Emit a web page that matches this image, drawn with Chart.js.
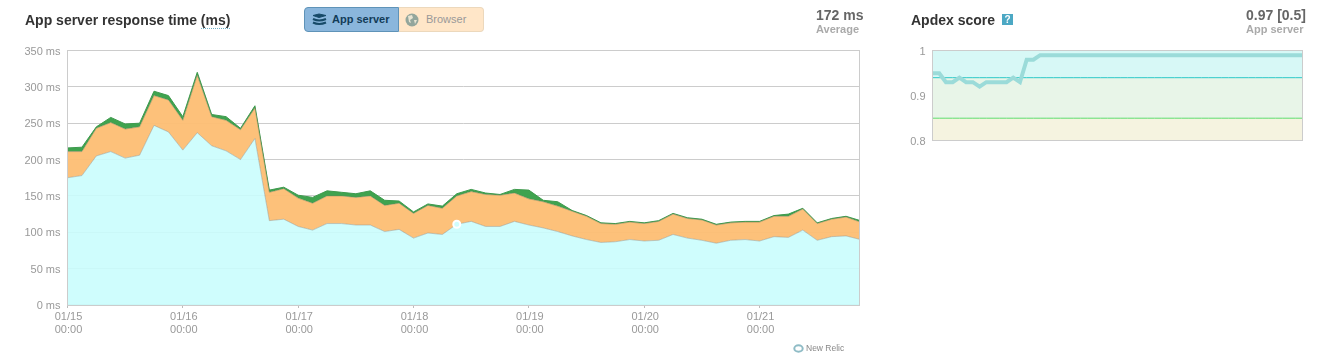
<!DOCTYPE html>
<html>
<head>
<meta charset="utf-8">
<title>App server response time</title>
<script src="https://cdn.jsdelivr.net/npm/chart.js@4"></script>
<style>
  html, body { margin: 0; padding: 0; background: #fff; }
  body { position: relative; width: 1324px; height: 363px; overflow: hidden; font-family: "Liberation Sans", Arial, sans-serif; }
  canvas { position: absolute; top: 0; }
  #chartTime { left: 0; }
  #chartApdex { left: 880px; }
  .txt { position: absolute; white-space: nowrap; line-height: 16px; }
  .title { font-size: 14px; font-weight: bold; color: #333; }
  .big { font-size: 14px; font-weight: bold; color: #666; }
  .sub { font-size: 11px; font-weight: bold; color: #aaa; }
  .ms { border-bottom: 1px dotted #6fb1c9; }
  .toggle { position: absolute; left: 304px; top: 7px; width: 180px; height: 25px; display: flex; font-size: 11px; box-sizing: border-box; }
  .toggle div { box-sizing: border-box; height: 25px; line-height: 22px; position: relative; }
  .on { width: 95px; background: #8ab6dc; border: 1px solid #5f93b8; border-radius: 4px 0 0 4px; color: #123c58; font-weight: bold; padding-left: 27px; }
  .off { width: 85px; background: #ffe6c8; border: 1px solid #ecd8bc; border-left: none; border-radius: 0 4px 4px 0; color: #999; padding-left: 27px; }
  .toggle svg { position: absolute; top: 5px; }
  .help { position: absolute; left: 1002px; top: 14px; width: 11px; height: 11px; background: #4ca8c4; color: #fff; font-size: 10px; font-weight: bold; line-height: 11px; text-align: center; }
  .logo { position: absolute; left: 793px; top: 344px; }
</style>
</head>
<body>
<canvas id="chartTime" width="870" height="363"></canvas>
<canvas id="chartApdex" width="430" height="160"></canvas>

<div class="txt title" style="left:25px;top:12px">App server response time <span class="ms">(ms)</span></div>
<div class="toggle">
  <div class="on">
    <svg style="left:7px" width="15" height="13" viewBox="0 0 15 13" fill="none" stroke="#174a68" stroke-width="2">
      <path d="M1 2.5 L7 1 L14 2.5 L7 4.5 Z" fill="#174a68" stroke-width="1"/>
      <path d="M1 6 Q7 9 14 6"/><path d="M1 9.5 Q7 12.5 14 9.5"/>
    </svg>
    App server
  </div>
  <div class="off">
    <svg style="left:6px" width="14" height="14" viewBox="0 0 14 14">
      <circle cx="7" cy="7" r="6.5" fill="#93a69c"/>
      <path d="M3 3 L7 2 L8 5 L5 7 L6 10 L4 9 Z M9 7 L12 7 L10 11 Z" fill="#e8e4d2"/>
    </svg>
    Browser
  </div>
</div>
<div class="txt big" style="left:816px;top:7px">172 ms</div>
<div class="txt sub" style="left:816px;top:21px">Average</div>

<div class="txt title" style="left:911px;top:12px">Apdex score</div>
<div class="help">?</div>
<div class="txt big" style="left:1246px;top:7px">0.97 [0.5]</div>
<div class="txt sub" style="left:1246px;top:21px">App server</div>

<svg class="logo" width="11" height="9" viewBox="0 0 11 9"><ellipse cx="5.5" cy="4.5" rx="4.2" ry="3.2" fill="none" stroke="#8fbcc6" stroke-width="2"/></svg>
<div class="txt" style="left:806px;top:340px;font-size:8.5px;color:#888">New Relic</div>

<script>
// hours since 01/15 00:00, one sample every 3 hours
const hours = [
  0, 3, 6, 9, 12, 15, 18, 21, 24, 27, 30, 33, 36, 39,
  42, 45, 48, 51, 54, 57, 60, 63, 66, 69, 72, 75, 78, 81,
  84, 87, 90, 93, 96, 99, 102, 105, 108, 111, 114, 117, 120, 123,
  126, 129, 132, 135, 138, 141, 144, 147, 150, 153, 156, 159, 162, 165
];

// stacked layers, in ms
const appLayer = [
  175, 178, 205, 211, 202, 206, 247, 238, 213, 237, 219, 212, 200, 229,
  116, 118, 108, 103, 112, 112, 110, 110, 101, 104, 92, 99, 97, 111,
  115, 108, 108, 115, 110, 106, 101, 95, 90, 86, 87, 90, 88, 89,
  97, 92, 89, 85, 89, 90, 88, 94, 93, 103, 89, 94, 95, 90
];
const dbLayer = [
  36, 33, 38, 40, 40, 39, 41, 44, 41, 79, 40, 42, 41, 42,
  39, 42, 39, 37, 38, 38, 38, 40, 36, 36, 34, 38, 36, 39,
  41, 44, 43, 39, 36, 36, 35, 34, 32, 26, 24, 24, 24, 26,
  28, 27, 28, 25, 24, 24, 26, 28, 29, 29, 23, 24, 26, 24
];
const extLayer = [
  5, 6, 2, 7, 7, 5, 6, 6, 5, 4, 3, 5, 2, 3,
  3, 2, 4, 8, 7, 5, 5, 7, 7, 3, 2, 2, 3, 3,
  3, 2, 1, 5, 12, 2, 6, 1, 1, 1, 1, 1, 1, 1,
  1, 1, 1, 1, 1, 1, 1, 1, 3, 1, 1, 1, 1, 2
];
const apdexValues = [
  0.95, 0.95, 0.93, 0.93, 0.94, 0.93, 0.93, 0.92, 0.93, 0.93, 0.93, 0.93, 0.94, 0.93,
  0.98, 0.98, 0.99, 0.99, 0.99, 0.99, 0.99, 0.99, 0.99, 0.99, 0.99, 0.99, 0.99, 0.99,
  0.99, 0.99, 0.99, 0.99, 0.99, 0.99, 0.99, 0.99, 0.99, 0.99, 0.99, 0.99, 0.99, 0.99,
  0.99, 0.99, 0.99, 0.99, 0.99, 0.99, 0.99, 0.99, 0.99, 0.99, 0.99, 0.99, 0.99, 0.99
];
const apdexBands = [1, 0.94, 0.85];

const dayLabels = ['01/15', '01/16', '01/17', '01/18', '01/19', '01/20', '01/21'];
const hoverIndex = 27;

const tickFont = { family: '"Liberation Sans", Arial, sans-serif', size: 11, lineHeight: 1.15 };
const tickColor = '#999';
const frameColor = '#ccc';

// the frame round the plot area, snapped to whole pixels
const plotFrame = {
  id: 'plotFrame',
  afterDraw(chart) {
    const a = chart.chartArea;
    const c = chart.ctx;
    const left = Math.floor(a.left) + 0.5;
    const top = Math.floor(a.top) + 0.5;
    c.save();
    c.strokeStyle = frameColor;
    c.lineWidth = 1;
    c.strokeRect(left, top, Math.round(a.right - a.left), Math.round(a.bottom - a.top));
    c.restore();
  }
};

function points(values) {
  return values.map((v, i) => ({ x: hours[i], y: v }));
}

new Chart(document.getElementById('chartTime').getContext('2d'), {
  type: 'line',
  data: {
    datasets: [
      {
        label: 'App server',
        data: points(appLayer),
        borderColor: 'rgba(150,150,140,0.5)',
        borderWidth: 1,
        backgroundColor: 'rgba(202,253,253,0.9)',
        fill: 'origin',
        tension: 0,
        pointRadius: ctx => ctx.dataIndex === hoverIndex ? 3.5 : 0,
        pointBackgroundColor: '#cffdfd',
        pointBorderColor: '#fff',
        pointBorderWidth: 2
      },
      {
        label: 'Database',
        data: points(dbLayer),
        borderColor: 'rgba(120,130,90,0.5)',
        borderWidth: 1,
        backgroundColor: 'rgba(253,190,115,0.95)',
        fill: '-1',
        tension: 0,
        pointRadius: 0
      },
      {
        label: 'External',
        data: points(extLayer),
        borderColor: '#3f9a4e',
        borderWidth: 1,
        backgroundColor: '#3fa34f',
        fill: '-1',
        tension: 0,
        pointRadius: 0
      }
    ]
  },
  options: {
    responsive: false,
    animation: false,
    devicePixelRatio: 1,
    layout: { padding: { top: 50.5, right: 10.5, left: 0, bottom: 0 } },
    plugins: { legend: { display: false }, tooltip: { enabled: false } },
    scales: {
      x: {
        type: 'linear',
        stacked: true,
        min: 0,
        max: 164.8,
        afterFit: s => { s.height = 58; },
        border: { color: frameColor, width: 2 },
        grid: { drawOnChartArea: false, color: '#bbb', tickLength: 3 },
        ticks: {
          stepSize: 24,
          includeBounds: false,
          maxRotation: 0,
          padding: 3,
          labelOffset: 1,
          font: tickFont,
          color: tickColor,
          callback: v => [dayLabels[v / 24], '00:00']
        }
      },
      y: {
        stacked: true,
        min: 0,
        max: 350,
        afterFit: s => { s.width = 67.5; },
        border: { display: false },
        grid: { color: frameColor, tickLength: 0 },
        ticks: {
          stepSize: 50,
          padding: 7,
          labelOffset: 1,
          font: tickFont,
          color: tickColor,
          callback: v => v + ' ms'
        }
      }
    }
  },
  plugins: [plotFrame]
});

new Chart(document.getElementById('chartApdex').getContext('2d'), {
  type: 'line',
  data: {
    labels: hours,
    datasets: [
      {
        label: 'Apdex',
        data: apdexValues,
        borderColor: '#9bdbd9',
        borderWidth: 4,
        borderJoinStyle: 'miter',
        fill: false,
        tension: 0,
        pointRadius: 0,
        order: 0
      },
      {
        label: 'Frustrated',
        data: hours.map(() => apdexBands[2]),
        borderColor: '#5fdd6f',
        borderWidth: 1,
        backgroundColor: '#f5f3e0',
        fill: 'start',
        pointRadius: 0,
        order: 1
      },
      {
        label: 'Tolerating',
        data: hours.map(() => apdexBands[1]),
        borderColor: '#2cc8c8',
        borderWidth: 1,
        backgroundColor: '#e8f5e8',
        fill: 'start',
        pointRadius: 0,
        order: 2
      },
      {
        label: 'Satisfied',
        data: hours.map(() => apdexBands[0]),
        borderWidth: 0,
        backgroundColor: '#d7f8f6',
        fill: 'start',
        pointRadius: 0,
        order: 3
      }
    ]
  },
  options: {
    responsive: false,
    animation: false,
    devicePixelRatio: 1,
    layout: { padding: { top: 50.7, right: 7.5, left: 0, bottom: 19.3 } },
    plugins: { legend: { display: false }, tooltip: { enabled: false } },
    scales: {
      x: { display: false, offset: false },
      y: {
        min: 0.8,
        max: 1,
        afterFit: s => { s.width = 52.5; },
        border: { display: false },
        grid: { display: false, drawTicks: false },
        ticks: {
          stepSize: 0.1,
          padding: 7,
          labelOffset: 1.5,
          font: tickFont,
          color: tickColor,
          callback: v => String(Math.round(v * 10) / 10)
        }
      }
    }
  },
  plugins: [plotFrame]
});
</script>
</body>
</html>
